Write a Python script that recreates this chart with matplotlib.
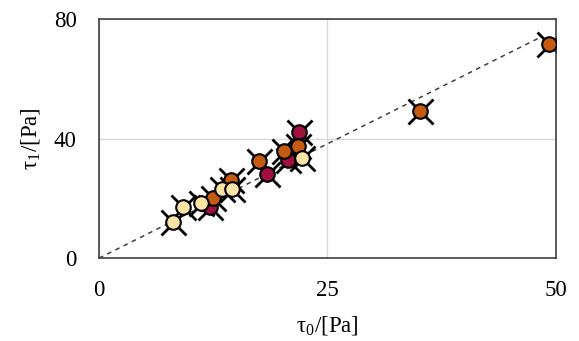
import matplotlib.pyplot as plt
import numpy as np

plt.rcParams['font.family'] = ['Liberation Serif', 'DejaVu Serif']
plt.rcParams['mathtext.fontset'] = 'custom'
plt.rcParams['mathtext.rm'] = 'Liberation Serif'

# light yellow series
tau0_a = [8.1, 9.2, 11.2, 13.5, 14.6, 22.2]
tau1_a = [12.1, 17.0, 18.5, 23.0, 23.0, 33.5]
# orange series
tau0_b = [12.5, 14.5, 17.5, 20.3, 21.8, 35.1, 49.3]
tau1_b = [20.0, 26.3, 32.5, 35.8, 37.5, 49.3, 71.5]
# dark red series
tau0_c = [12.1, 18.4, 20.7, 21.9]
tau1_c = [17.2, 28.0, 32.8, 42.2]

fit_x = np.array([0, 48])
slope = 1.53

fig = plt.figure(figsize=(5.79, 3.41), dpi=100)
ax = fig.add_axes([0.171, 0.243, 0.789, 0.701])

ax.plot(fit_x, slope * fit_x, ls=(0, (3, 3)), color='#404040', lw=1.1, zorder=1)

groups = [(tau0_c, tau1_c, '#A0103E'), (tau0_b, tau1_b, '#C55A11'), (tau0_a, tau1_a, '#FCE4A6')]
for xs, ys, c in groups:
    ax.plot(xs, ys, 'x', color='black', ms=18, mew=2, zorder=2)
    ax.plot(xs, ys, 'o', mfc=c, mec='black', mew=1.5, ms=10.5, zorder=3)

ax.set_xlim(0, 50)
ax.set_ylim(0, 80)
ax.set_xticks([0, 25, 50])
ax.set_yticks([0, 40, 80])
ax.grid(True, color='#d9d9d9', lw=1)
ax.set_axisbelow(True)
ax.tick_params(length=0, labelsize=16.5)
ax.tick_params(axis='x', pad=16)
ax.tick_params(axis='y', pad=16)
for s in ax.spines.values():
    s.set_color('#404040')
    s.set_linewidth(1.2)

ax.set_xlabel('τ$_0$/[Pa]', fontsize=16.5, labelpad=9)
ax.set_ylabel('τ$_1$/[Pa]', fontsize=16.5, labelpad=8)

fig.savefig('out.png', dpi=100)
